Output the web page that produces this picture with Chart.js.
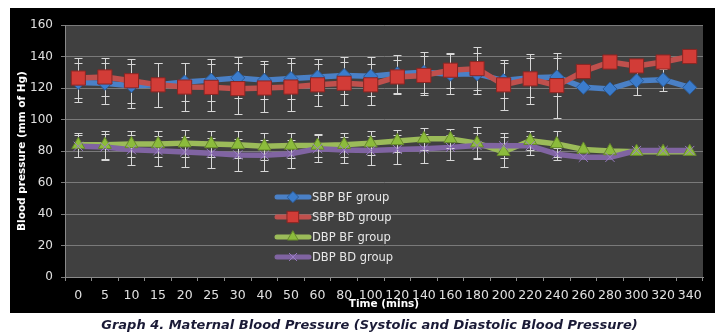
<!DOCTYPE html>
<html>
<head>
<meta charset="utf-8">
<script src="https://cdn.jsdelivr.net/npm/chart.js@4.4.1/dist/chart.umd.min.js"></script>
<style>
  html, body { margin: 0; padding: 0; background: #fff; }
  #wrap { position: relative; width: 715px; height: 335px; overflow: hidden; }
  #c { position: absolute; left: 0; top: 0; }
  #cap {
    position: absolute; top: 317px; left: 12px; width: 715px;
    text-align: center; white-space: nowrap;
    font: italic bold 13px "DejaVu Sans", sans-serif; color: #1a1a36;
  }
</style>
</head>
<body>
<div id="wrap">
  <canvas id="c" width="715" height="335"></canvas>
  <div id="cap">Graph 4. Maternal Blood Pressure (Systolic and Diastolic Blood Pressure)</div>
</div>
<script>
// Time points (minutes)
const timeLabels = ['0','5','10','15','20','25','30','40','50','60','80','100','120','140','160','180','200','220','240','260','280','300','320','340'];

// Mean systolic / diastolic pressure (mm Hg) per group
const sbpBF = [123.5,123,121.5,122,123.8,125,126.4,125,126,127,128,127.5,129,130,128.8,129,124.7,126.5,127,120.4,119.4,124.6,125.3,120.4];
const sbpBD = [126.3,127,124.6,122,120.6,120.4,119.6,120,120.6,122,123,122,127,128,131.3,132.3,122,125.8,121.5,130.5,136.5,134,136.5,140];
const dbpBF = [84,84,84.5,84.5,85,84.5,84,83,83.5,83.5,84,85,86.4,87.7,87.7,85,79.5,86.5,84.5,81,80,79.6,79.6,79.6];
const dbpBD = [83,82.5,80.8,80.2,79.4,78.5,77.5,77.3,78.3,81.5,80.7,80.3,81,81.5,82.3,83.5,83.3,83.3,78,76,76,80.3,80.3,80.3];

// Standard deviations for the error bars (null = no bar)
const sbpBFsd = [12.5,13,14,14,12,13.5,13,12,13,11.5,12,12.5,12,13,12.5,13,11,12.5,12,null,null,9,7,null];
const sbpBDsd = [12.5,12,14,14,15,15,16,15,15,13.5,13.5,13,11,12.5,11,13.5,16,16,20.5,null,null,null,null,null];
const dbpBFsd = [7.5,9,8.5,8.5,8.5,8.5,8.5,8.5,8,7.5,7.5,7.5,7,7,6,10,9.5,6,8,null,null,null,null,null];
const dbpBDsd = [7,8.5,9.5,9.5,9.5,9.5,10,10,9,8.5,8.5,9,9,9,8,8,8,6,4,null,null,null,null,null];

const FONT = '"DejaVu Sans", sans-serif';

// Frame: white page, black panel, dark plot area
const framePlugin = {
  id: 'frame',
  beforeDraw(chart) {
    const { ctx, chartArea: a } = chart;
    ctx.save();
    ctx.fillStyle = '#ffffff';
    ctx.fillRect(0, 0, chart.width, chart.height);
    ctx.fillStyle = '#000000';
    ctx.fillRect(10, 8, chart.width - 10, 305);
    ctx.fillStyle = '#404040';
    ctx.fillRect(a.left, a.top, a.right - a.left, a.bottom - a.top);
    ctx.restore();
  }
};

// Lines of all series first, then error bars, then the markers on top
const layeredPlugin = {
  id: 'layered',
  beforeDatasetDraw() { return false; },
  afterDatasetsDraw(chart) {
    const ctx = chart.ctx;
    const area = chart.chartArea;
    const yScale = chart.scales.y;
    const metas = chart.data.datasets.map((d, i) => chart.getDatasetMeta(i));
    metas.forEach(m => m.dataset.draw(ctx, area));
    ctx.save();
    ctx.strokeStyle = '#d8d8d8';
    ctx.lineWidth = 1;
    metas.forEach(m => {
      const ds = chart.data.datasets[m.index];
      m.data.forEach((pt, i) => {
        const sd = ds.sd[i];
        if (sd == null) return;
        const x = Math.round(pt.x) + 0.5;
        const yt = Math.round(yScale.getPixelForValue(ds.data[i] + sd)) + 0.5;
        const yb = Math.round(yScale.getPixelForValue(ds.data[i] - sd)) + 0.5;
        ctx.beginPath();
        ctx.moveTo(x, yt); ctx.lineTo(x, yb);
        ctx.moveTo(x - 4, yt); ctx.lineTo(x + 4, yt);
        ctx.moveTo(x - 4, yb); ctx.lineTo(x + 4, yb);
        ctx.stroke();
      });
    });
    ctx.restore();
    metas.forEach(m => m.data.forEach(p => p.draw(ctx, area)));
  }
};

// Legend drawn inside the plot area
const insideLegend = {
  id: 'insideLegend',
  afterDraw(chart) {
    const ctx = chart.ctx;
    const x0 = 277, x1 = 309, y0 = 197, step = 20;
    chart.data.datasets.forEach((ds, i) => {
      const y = y0 + i * step;
      ctx.save();
      ctx.strokeStyle = ds.borderColor;
      ctx.lineWidth = 5;
      ctx.lineCap = 'round';
      ctx.beginPath();
      ctx.moveTo(x0, y); ctx.lineTo(x1, y);
      ctx.stroke();
      ctx.fillStyle = ds.pointBackgroundColor;
      ctx.strokeStyle = ds.pointBorderColor;
      ctx.lineWidth = ds.pointBorderWidth;
      Chart.helpers.drawPoint(ctx, {
        pointStyle: ds.pointStyle, radius: ds.pointRadius * 0.8,
        borderWidth: ds.pointBorderWidth, rotation: 0
      }, (x0 + x1) / 2, y);
      ctx.fillStyle = '#e8e8e8';
      ctx.font = '11.5px ' + FONT;
      ctx.textBaseline = 'middle';
      ctx.textAlign = 'left';
      ctx.fillText(ds.label, x1 + 3, y + 1);
      ctx.restore();
    });
  }
};

function series(label, data, sd, line, fill, edge, style, radius, bw) {
  return {
    label, data, sd,
    borderColor: line, backgroundColor: line, borderWidth: 5.5,
    borderJoinStyle: 'round', borderCapStyle: 'round', tension: 0,
    pointStyle: style, pointRadius: radius,
    pointBackgroundColor: fill, pointBorderColor: edge, pointBorderWidth: bw
  };
}

new Chart(document.getElementById('c'), {
  type: 'line',
  data: {
    labels: timeLabels,
    datasets: [
      series('SBP BF group', sbpBF, sbpBFsd, '#4a80c6', '#3b7ccc', '#2a5a96', 'rectRot', 7, 1),
      series('SBP BD group', sbpBD, sbpBDsd, '#c0504d', '#d23c37', '#8a2623', 'rect', 10, 1),
      series('DBP BF group', dbpBF, dbpBFsd, '#9bbb59', '#8cbc3c', '#66892a', 'triangle', 7.5, 1),
      series('DBP BD group', dbpBD, dbpBDsd, '#8064a2', '#8064a2', '#9a7cc4', 'crossRot', 6.5, 1)
    ]
  },
  options: {
    responsive: false,
    animation: false,
    events: [],
    layout: { padding: { left: 10, top: 25, right: 12, bottom: 22 } },
    plugins: { legend: { display: false }, tooltip: { enabled: false } },
    scales: {
      x: {
        offset: true,
        grid: { offset: true, drawOnChartArea: false, drawTicks: true, tickLength: 4, color: '#8a8a8a' },
        border: { color: '#8a8a8a' },
        ticks: { color: '#e0e0e0', font: { family: FONT, size: 12.5 }, autoSkip: false, maxRotation: 0, padding: 7 },
        title: { display: true, text: 'Time (mins)', color: '#ffffff', font: { family: FONT, size: 10.5, weight: 'bold' }, padding: { top: 0, bottom: 2 } },
        afterFit(s) { s.height = 36; }
      },
      y: {
        min: 0, max: 160,
        grid: { color: '#7a7a7a', tickLength: 4 },
        border: { color: '#8a8a8a' },
        ticks: { stepSize: 20, color: '#e0e0e0', font: { family: FONT, size: 12 }, padding: 8 },
        title: { display: true, text: 'Blood pressure (mm of Hg)', color: '#ffffff', font: { family: FONT, size: 10.5, weight: 'bold' }, padding: { top: 6, bottom: 0 } },
        afterFit(s) { s.width = 55; }
      }
    }
  },
  plugins: [framePlugin, layeredPlugin, insideLegend]
});
</script>
</body>
</html>
